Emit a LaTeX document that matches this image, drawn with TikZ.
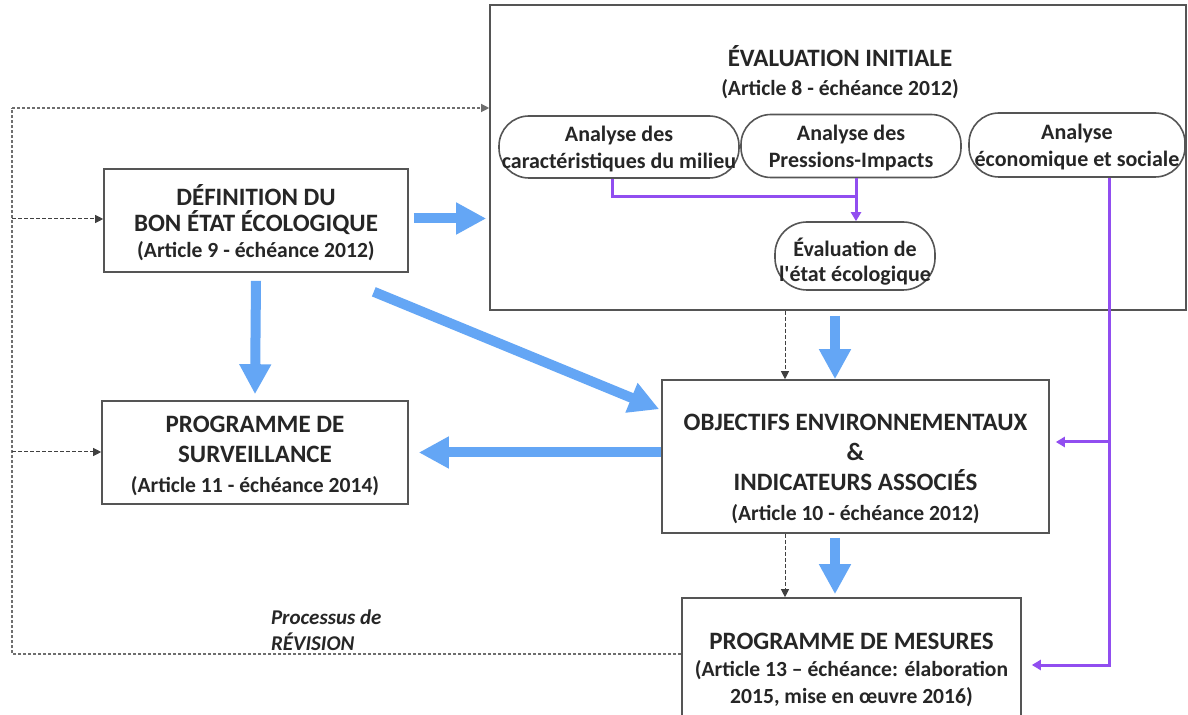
\documentclass[tikz,border=0pt]{standalone}
\usepackage{fontspec}
\setmainfont{Carlito}
\usetikzlibrary{arrows.meta,calc}
\definecolor{bluearr}{RGB}{100,166,245}
\definecolor{purp}{RGB}{145,78,240}
\definecolor{txt}{RGB}{38,38,38}
\definecolor{frame}{RGB}{85,85,85}
\definecolor{dotc}{RGB}{110,110,110}
\newcommand{\ssz}{\fontsize{10.8}{13}\selectfont}
\newcommand{\tsA}[1]{\rule{0pt}{#1}}
\newcommand{\tsB}[1]{\rule[-#1]{0pt}{0pt}}
\tikzset{
  box/.style={draw=frame, line width=0.8pt, inner sep=0pt, align=center, text=txt},
  oval/.style={draw=frame, line width=0.8pt, rounded corners=15pt, inner sep=0pt, align=center, text=txt, font=\bfseries\fontsize{11}{13.5}\selectfont},
  bigarrow/.style={bluearr, line width=5pt, -{Triangle[length=15pt,width=15pt]}},
  purpline/.style={purp, line width=1.5pt},
  purparrow/.style={purp, line width=1.5pt, -{Triangle[length=4.5pt,width=5pt]}},
  dotline/.style={dotc, line width=0.6pt, dash pattern=on 1.5pt off 1pt},
  dashline/.style={black!75, line width=0.5pt, dash pattern=on 2pt off 1pt},
  dottip/.style={-{Triangle[length=4pt,width=4pt]}}
}
\begin{document}
\begin{tikzpicture}[x=0.5pt,y=-0.5pt]
\useasboundingbox (0,0) rectangle (1188,715);
\clip (0,0) rectangle (1188,715);
\fill[white] (0,0) rectangle (1188,715);

% big frame and its contents
\node[box, minimum width=348pt, minimum height=152.5pt] (big) at (838,157.5) {};
\node[align=center, text=txt, font=\bfseries\fontsize{12.5}{14.5}\selectfont] (bt) at (840,72)
  {ÉVALUATION INITIALE\\\ssz (Article 8 - échéance 2012)};
\node[oval, minimum width=120pt, minimum height=31pt] (o1) at (619,147) {\tsA{12.5pt}Analyse des\\caractéristiques du milieu\tsB{4pt}};
\node[oval, minimum width=110pt, minimum height=31.5pt] (o2) at (851,146) {\tsA{12.5pt}Analyse des\\Pressions-Impacts\tsB{4pt}};
\node[oval, minimum width=108pt, minimum height=32pt] (o3) at (1077,145) {\tsA{12.5pt}Analyse\\économique et sociale\tsB{4pt}};
\node[oval, minimum width=80pt, minimum height=33pt, rounded corners=16pt, font=\bfseries\fontsize{11}{12.5}\selectfont] (o4) at (855,256) {\tsA{17.5pt}Évaluation de\\l\textquotesingle état écologique\tsB{4pt}};

% boxes
\node[box, minimum width=152pt, minimum height=51.5pt, font=\bfseries\fontsize{12.5}{13}\selectfont] (def) at (256,220.5)
  {\tsA{16.5pt}DÉFINITION DU\\BON ÉTAT ÉCOLOGIQUE\\\ssz (Article 9 - échéance 2012)\tsB{5pt}};
\node[box, minimum width=153pt, minimum height=51.5pt, font=\bfseries\fontsize{12.5}{15}\selectfont] (surv) at (255,452.5)
  {\tsA{15.5pt}PROGRAMME DE\\SURVEILLANCE\\\ssz (Article 11 - échéance 2014)\tsB{5pt}};
\node[box, minimum width=193.5pt, minimum height=76.5pt, font=\bfseries\fontsize{12.5}{15}\selectfont] (obj) at (855.5,456.5)
  {\tsA{24.5pt}OBJECTIFS ENVIRONNEMENTAUX\\\&\\INDICATEURS ASSOCIÉS\\\ssz (Article 10 - échéance 2012)\tsB{5pt}};
\node[box, minimum width=169.5pt, minimum height=70pt, font=\bfseries\fontsize{12.5}{13.5}\selectfont] (mes) at (851.5,668)
  {\tsA{13pt}PROGRAMME DE MESURES\\\ssz (Article 13 – échéance: élaboration\\\ssz 2015, mise en œuvre 2016)\tsB{5pt}};

\node[anchor=west, align=left, text=txt, font=\bfseries\itshape\fontsize{10.5}{13}\selectfont] (rev) at (264,630)
  {Processus de\\RÉVISION};

% revision loop
\coordinate (cBL) at (12,654);
\coordinate (cTL) at (12,108);
\coordinate (cD) at (12,219);
\coordinate (cS) at (12,452);
\draw[dotline] (mes.west |- cBL) -- (cBL) -- (cTL);
\draw[dotline, dottip] (cTL) -- (big.west |- cTL);
\draw[dashline, dottip] (cD) -- (def.west |- cD);
\draw[dashline, dottip] (cS) -- (surv.west |- cS);
\coordinate (cV) at (785,0);
\draw[dashline, dottip] (big.south -| cV) -- (obj.north -| cV);
\draw[dashline, dottip] (obj.south -| cV) -- (mes.north -| cV);

% blue arrows
\coordinate (cB) at (835,0);
\draw[bigarrow] ($(def.east)+(5,-2)$) -- ($(big.west |- def.east)+(-3,-2)$);
\draw[bigarrow] ($(def.south)+(0,8)$) -- ($(surv.north)+(0,-6)$);
\draw[bigarrow] ($(def.south east)+(-35,19)$) -- ($(obj.north west)+(-2,30)$);
\draw[bigarrow] (obj.west |- surv.east) -- ($(surv.east)+(10,0)$);
\draw[bigarrow] ($(big.south -| cB)+(0,5)$) -- (obj.north -| cB);
\draw[bigarrow] ($(obj.south -| cB)+(0,4)$) -- ($(mes.north -| cB)+(0,-3)$);

% purple connectors
\coordinate (p1) at (612,0);
\coordinate (p2) at (856,0);
\coordinate (p3) at (1109,0);
\coordinate (pj) at (0,197);
\coordinate (po) at (0,442);
\coordinate (pm) at (0,665);
\draw[purpline] (o1.south -| p1) -- (p1 |- pj) -- (p2 |- pj);
\draw[purparrow] (o2.south -| p2) -- (o4.north -| p2);
\draw[purparrow] (o3.south -| p3) -- (p3 |- pm) -- ($(mes.east |- pm)+(10,0)$);
\draw[purparrow] (p3 |- po) -- ($(obj.east |- po)+(6,0)$);
\end{tikzpicture}
\end{document}
